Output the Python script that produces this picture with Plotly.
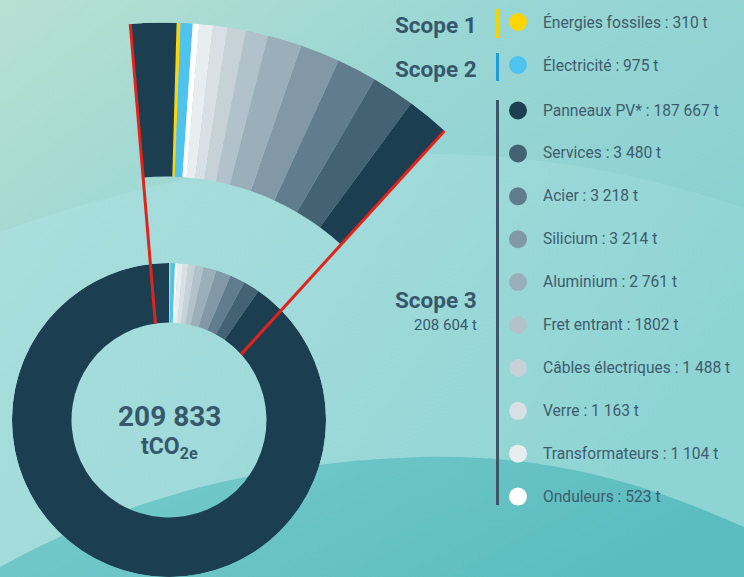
import base64
import math
import plotly.graph_objects as go

# ---------------- data ----------------
labels = ["Énergies fossiles", "Électricité", "Panneaux PV*", "Services", "Acier",
          "Silicium", "Aluminium", "Fret entrant", "Câbles électriques", "Verre",
          "Transformateurs", "Onduleurs"]
values = [310, 975, 187667, 3480, 3218, 3214, 2761, 1802, 1488, 1163, 1104, 523]
value_labels = ["310 t", "975 t", "187 667 t", "3 480 t", "3 218 t", "3 214 t",
                "2 761 t", "1802 t", "1 488 t", "1 163 t", "1 104 t", "523 t"]
scope_names = ["Scope 1", "Scope 2", "Scope 3"]
scope3_total = "208 604 t"
total_label = "209 833"
unit_label = "tCO<sub>2e</sub>"
colors = ["#FFD400", "#4EC3EE", "#1B3F50", "#436373", "#617C8C", "#8398A6",
          "#9BAFBA", "#B2C2CB", "#C6D1D8", "#D8E0E5", "#E8EDF0", "#FFFFFF"]
# clockwise order of slices starting at 12 o'clock
ring_order = [0, 1, 11, 10, 9, 8, 7, 6, 5, 4, 3, 2]

# ---------------- layout constants ----------------
W, H = 744, 577
DONUT_C = (169, 420)
DONUT_R, DONUT_r = 157, 97.5
ZOOM_C = (165, 438)
ZOOM_R, ZOOM_r = 415.5, 261.5
ZF, ZT = -4.8, 42.3      # zoom window (deg, clockwise from top)
ZOOM_OFFSET = 1.6        # small rotation of the exploded arc
TXT = "#36586B"
LEG_TXT = "#3E5C6C"
FONT = "Roboto"

total = sum(values)
ring = []
a = 0.0
for i in ring_order:
    span = values[i] / total * 360.0
    ring.append((i, a, a + span))
    a += span


def sector_bbox(s0, s1):
    arc = s1 - s0
    a0 = s0 % 360
    a1 = a0 + arc
    ax, ay = math.cos(math.radians(a0)), math.sin(math.radians(a0))
    bx, by = math.cos(math.radians(a1)), math.sin(math.radians(a1))
    if (a0 <= 90 <= a1) or (a0 > 90 and a1 >= 450):
        y1 = 1
    elif ay <= 0 and by <= 0:
        y1 = 0
    else:
        y1 = max(ay, by)
    if (a0 <= 180 <= a1) or (a0 > 180 and a1 >= 540):
        x0 = -1
    elif ax >= 0 and bx >= 0:
        x0 = 0
    else:
        x0 = min(ax, bx)
    if (a0 <= 270 <= a1) or (a0 > 270 and a1 >= 630):
        y0 = -1
    elif ay >= 0 and by >= 0:
        y0 = 0
    else:
        y0 = min(ay, by)
    if a1 >= 360:
        x1 = 1
    elif ax <= 0 and bx <= 0:
        x1 = 0
    else:
        x1 = max(ax, bx)
    return x0, y0, x1, y1


def domain_for(center, R, sector):
    x0, y0, x1, y1 = sector_bbox(*sector)
    cx, cy = center
    left, right = cx + R * x0, cx + R * x1
    top, bottom = cy - R * y1, cy - R * y0
    return dict(x=[max(0, left / W), min(1, right / W)],
                y=[max(0, (H - bottom) / H), min(1, (H - top) / H)])


def polar_cfg(R, center, sector):
    return dict(
        domain=domain_for(center, R, sector),
        sector=list(sector),
        bgcolor="rgba(0,0,0,0)",
        angularaxis=dict(rotation=90, direction="clockwise", showline=False,
                         showgrid=False, showticklabels=False, ticks="",
                         thetaunit="degrees"),
        radialaxis=dict(visible=False, range=[0, R], showgrid=False, showline=False),
    )


def inner_hit(theta):
    # distance from zoom centre, along the given angle, to the donut's inner circle
    s, c = math.sin(math.radians(theta)), math.cos(math.radians(theta))
    dx, dy = ZOOM_C[0] - DONUT_C[0], ZOOM_C[1] - DONUT_C[1]
    b = 2 * (dx * s - dy * c)
    cc = dx * dx + dy * dy - DONUT_r ** 2
    return (-b + math.sqrt(b * b - 4 * cc)) / 2


fig = go.Figure()

# donut
fig.add_trace(go.Barpolar(
    theta=[(a0 + a1) / 2 for _, a0, a1 in ring],
    width=[a1 - a0 for _, a0, a1 in ring],
    r=[DONUT_R - DONUT_r] * len(ring),
    base=[DONUT_r] * len(ring),
    marker=dict(color=[colors[i] for i, _, _ in ring], line=dict(width=0)),
    hovertext=[labels[i] for i, _, _ in ring], hoverinfo="text",
    subplot="polar", showlegend=False,
))

# exploded (zoomed) arc
segs = []
for i, a0, a1 in ring:
    for sh in (0, -360):
        lo = max(a0 + sh + ZOOM_OFFSET, ZF)
        hi = min(a1 + sh + ZOOM_OFFSET, ZT)
        if hi > lo:
            segs.append((i, lo, hi))
fig.add_trace(go.Barpolar(
    theta=[(lo + hi) / 2 for _, lo, hi in segs],
    width=[hi - lo for _, lo, hi in segs],
    r=[ZOOM_R - ZOOM_r] * len(segs),
    base=[ZOOM_r] * len(segs),
    marker=dict(color=[colors[i] for i, _, _ in segs], line=dict(width=0)),
    hovertext=[labels[i] for i, _, _ in segs], hoverinfo="text",
    subplot="polar2", showlegend=False,
))
# red connector lines (own subplot with a wider sector so they are not clipped)
for th in (ZF, ZT):
    fig.add_trace(go.Scatterpolar(
        r=[inner_hit(th), ZOOM_R], theta=[th, th], mode="lines",
        line=dict(color="#E3231B", width=3), cliponaxis=False,
        hoverinfo="skip", subplot="polar3", showlegend=False,
    ))

# legend dots
row_y = [22, 65] + [110.5 + 42.9 * k for k in range(10)]
fig.add_trace(go.Scatter(
    x=[518] * len(labels), y=row_y, mode="markers",
    marker=dict(size=18, color=colors, line=dict(width=0)),
    hovertext=labels, hoverinfo="text", showlegend=False,
))

annotations = []
for lab, vl, y in zip(labels, value_labels, row_y):
    annotations.append(dict(x=541, y=y, xref="x", yref="y", text=f"{lab} : {vl}",
                            showarrow=False, xanchor="left", yanchor="middle",
                            font=dict(family=FONT, size=15.6, color=LEG_TXT)))
for name, y in zip(scope_names, [25, 69, 300]):
    annotations.append(dict(x=479, y=y, xref="x", yref="y", text=f"<b>{name}</b>",
                            showarrow=False, xanchor="right", yanchor="middle",
                            font=dict(family=FONT, size=22.5, color=TXT)))
annotations.append(dict(x=479, y=325, xref="x", yref="y", text=scope3_total,
                        showarrow=False, xanchor="right", yanchor="middle",
                        font=dict(family=FONT, size=15, color=TXT)))
annotations.append(dict(x=DONUT_C[0], y=416, xref="x", yref="y",
                        text=f"<b>{total_label}</b>", showarrow=False,
                        xanchor="center", yanchor="middle",
                        font=dict(family=FONT, size=28, color=TXT)))
annotations.append(dict(x=DONUT_C[0], y=448, xref="x", yref="y",
                        text=f"<b>{unit_label}</b>", showarrow=False,
                        xanchor="center", yanchor="middle",
                        font=dict(family=FONT, size=23, color=TXT)))

shapes = []
for (y0, y1), col in zip([(9, 38), (53, 81), (100, 505)], ["#F2D500", "#1E9FDB", "#3D5566"]):
    shapes.append(dict(type="line", xref="x", yref="y", x0=497.5, x1=497.5, y0=y0, y1=y1,
                       line=dict(color=col, width=3), layer="below"))

bg_svg = f"""<svg xmlns='http://www.w3.org/2000/svg' width='{W}' height='{H}' viewBox='0 0 {W} {H}' preserveAspectRatio='none'>
<defs>
<linearGradient id='g0' x1='0' y1='0' x2='1' y2='1'>
<stop offset='0' stop-color='#B8E0D2'/><stop offset='0.35' stop-color='#98D6D4'/><stop offset='1' stop-color='#80CDCF'/>
</linearGradient>
<linearGradient id='g1' x1='0' y1='0' x2='1' y2='0.4'>
<stop offset='0' stop-color='#AADFDD'/><stop offset='0.5' stop-color='#A0DADA'/><stop offset='1' stop-color='#8ED4D4'/>
</linearGradient>
<linearGradient id='g2' x1='0' y1='0' x2='1' y2='0.3'>
<stop offset='0' stop-color='#78CBCB'/><stop offset='1' stop-color='#5CBDC0'/>
</linearGradient>
</defs>
<rect width='{W}' height='{H}' fill='url(#g0)'/>
<path d='M0,232 C150,178 300,152 440,154 C560,156 660,180 744,208 L744,577 L0,577 Z' fill='url(#g1)'/>
<path d='M0,567 C120,500 260,462 420,457 C560,453 660,490 744,527 L744,577 L0,577 Z' fill='url(#g2)'/>
</svg>"""
bg_uri = "data:image/svg+xml;base64," + base64.b64encode(bg_svg.encode("utf-8")).decode("ascii")

fig.update_layout(
    width=W, height=H, autosize=False,
    margin=dict(l=0, r=0, t=0, b=0, pad=0),
    paper_bgcolor="#9ED8D6", plot_bgcolor="rgba(0,0,0,0)",
    polar=polar_cfg(DONUT_R, DONUT_C, (0, 360)),
    polar2=polar_cfg(ZOOM_R, ZOOM_C, (90 - ZT, 90 - ZF)),
    polar3=polar_cfg(ZOOM_R, ZOOM_C, (90 - ZT - 3, 90 - ZF + 3)),
    xaxis=dict(range=[0, W], visible=False, domain=[0, 1], fixedrange=True),
    yaxis=dict(range=[H, 0], visible=False, domain=[0, 1], fixedrange=True),
    annotations=annotations,
    shapes=shapes,
    images=[dict(source=bg_uri, xref="paper", yref="paper", x=0, y=1, sizex=1, sizey=1,
                 xanchor="left", yanchor="top", sizing="stretch", layer="below")],
    font=dict(family=FONT),
    hovermode=False,
)

fig.write_html(
    "out.html",
    config={"displayModeBar": False, "staticPlot": True},
    post_script="document.body.style.margin='0px'; document.body.style.overflow='hidden';",
)
